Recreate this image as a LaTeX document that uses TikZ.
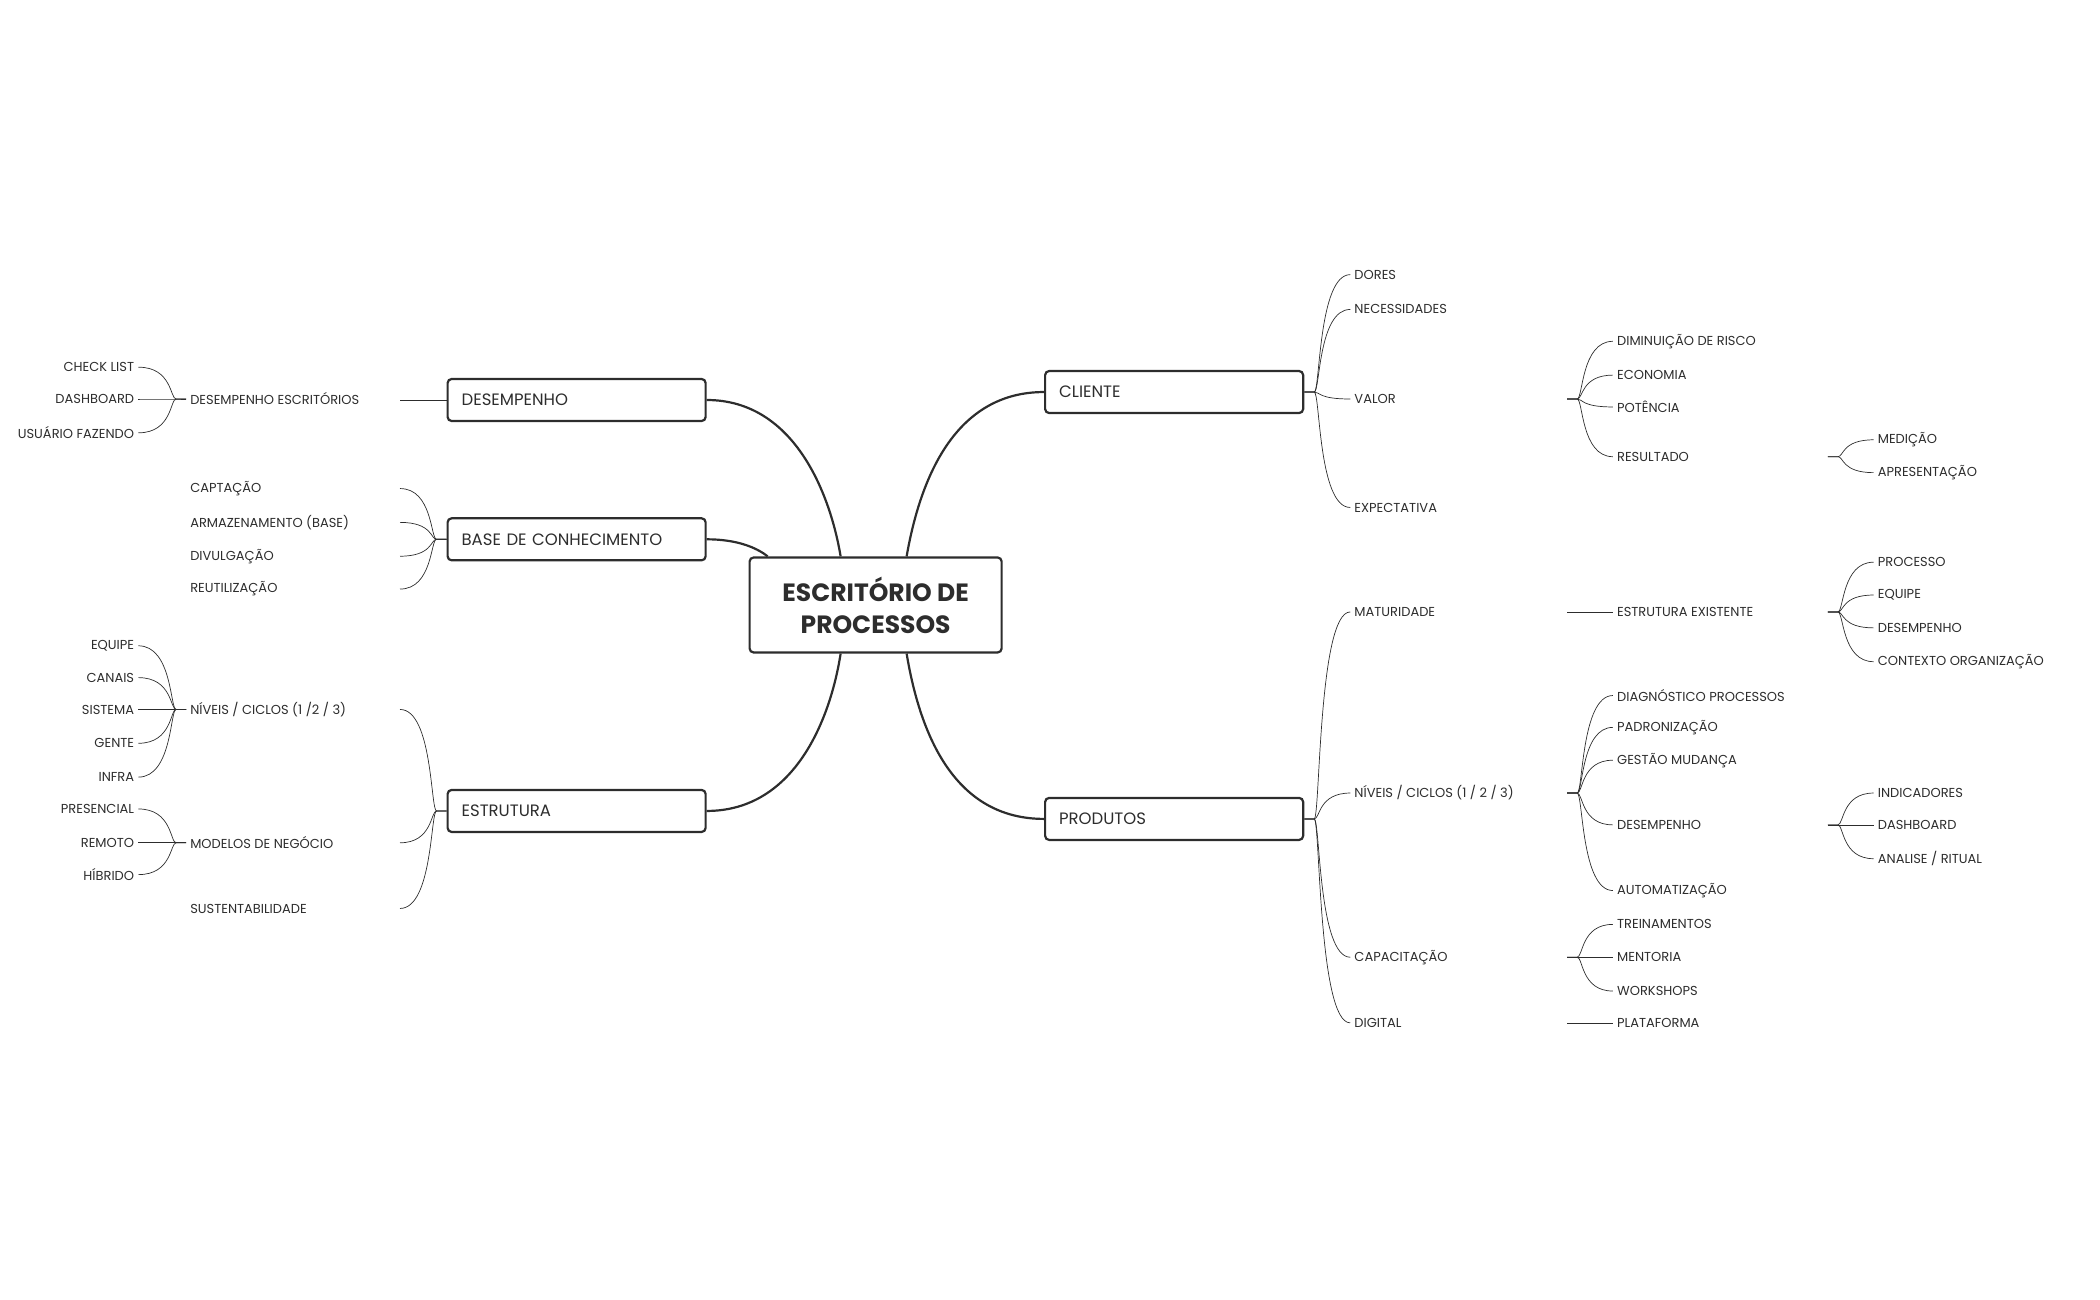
\documentclass[tikz,border=0pt]{standalone}
\usepackage{fontspec}
\setmainfont{Poppins}
\usetikzlibrary{calc}
\definecolor{ink}{RGB}{45,45,45}
\tikzset{
 lbl/.style={inner ysep=0pt,inner xsep=4pt,font=\fontsize{13}{15}\selectfont,text=ink},
 topic/.style={draw=ink,line width=2.2pt,rounded corners=4pt,minimum width=258pt,minimum height=42pt,text width=230pt,align=left,font=\fontsize{16.5}{18}\selectfont,text=ink},
 thin/.style={draw=ink,line width=0.7pt},
 thick/.style={draw=ink,line width=2.2pt}
}
\newcommand\kidR[5]{% from coord, child name, x, y, text
 \node[lbl,anchor=west] (#2) at (#3-4,#4) {#5};
 \draw[thin] (#1) -- ++(10,0) coordinate (f) .. controls ($(f)+(6,0)$) and ($(f |- #2.west)+(4,0)$) .. (#2.west);}
\newcommand\kidL[5]{%
 \node[lbl,anchor=east] (#2) at (#3+4,#4) {#5};
 \draw[thin] (#1) -- ++(-10,0) coordinate (f) .. controls ($(f)+(-6,0)$) and ($(f |- #2.east)+(-4,0)$) .. (#2.east);}
\newcommand\kidLc[5]{% left child whose connection point is a coordinate to its right
 \node[lbl,anchor=west] (#2) at (187,#4) {#5};
 \coordinate (#2c) at (#3,#4);
 \draw[thin] (#1) -- ++(-10,0) coordinate (f) .. controls ($(f)+(-6,0)$) and ($(f |- #2c)+(-4,0)$) .. (#2c);}
\begin{document}
\begin{tikzpicture}[x=0.995pt,y=-0.995pt]
\useasboundingbox (0,0) rectangle (2110.5,1306.5);
\node[draw=ink,line width=2.2pt,rounded corners=4pt,minimum width=252pt,minimum height=95pt,align=center,font=\fontsize{25}{32}\selectfont\bfseries,text=ink] (c) at (880,608) {ESCRITÓRIO DE\\PROCESSOS};
\node[topic] (des) at (579.5,402) {DESEMPENHO};
\node[topic] (base) at (579.5,542) {BASE DE CONHECIMENTO};
\node[topic] (est) at (579.5,815) {ESTRUTURA};
\node[topic] (cli) at (1180,394) {CLIENTE};
\node[topic] (prod) at (1180,823) {PRODUTOS};
\draw[thick] (des.east) .. controls (800,402) and (835,500) .. ([xshift=-35pt]c.north);
\draw[thick] (base.east) .. controls (740,542) and (760,550) .. ([xshift=-108pt]c.north);
\draw[thick] (est.east) .. controls (800,815) and (835,720) .. ([xshift=-35pt]c.south);
\draw[thick] (cli.west) .. controls (960,394) and (925,480) .. ([xshift=31pt]c.north);
\draw[thick] (prod.west) .. controls (960,823) and (925,740) .. ([xshift=31pt]c.south);
% DESEMPENHO
\node[lbl,anchor=west] (de) at (187,401) {DESEMPENHO ESCRITÓRIOS};
\coordinate (dec) at (402,402);
\draw[thin] (des.west) -- (dec);
\coordinate (deL) at (187,401);
\kidL{deL}{cl}{135}{369}{CHECK LIST}
\kidL{deL}{db}{135}{401}{DASHBOARD}
\kidL{deL}{uf}{135}{435}{USUÁRIO FAZENDO}
% BASE
\kidLc{base.west}{b1}{402}{491}{CAPTAÇÃO}
\kidLc{base.west}{b2}{402}{525}{ARMAZENAMENTO (BASE)}
\kidLc{base.west}{b3}{402}{559}{DIVULGAÇÃO}
\kidLc{base.west}{b4}{402}{592}{REUTILIZAÇÃO}
% ESTRUTURA
\kidLc{est.west}{e1}{402}{713}{NÍVEIS / CICLOS (1 /2 / 3)}
\kidLc{est.west}{e2}{402}{847}{MODELOS DE NEGÓCIO}
\kidLc{est.west}{e3}{402}{913}{SUSTENTABILIDADE}
\coordinate (e1L) at (187,713);
\kidL{e1L}{n1}{135}{649}{EQUIPE}
\kidL{e1L}{n2}{135}{681}{CANAIS}
\kidL{e1L}{n3}{135}{713}{SISTEMA}
\kidL{e1L}{n4}{135}{747}{GENTE}
\kidL{e1L}{n5}{135}{781}{INFRA}
\coordinate (e2L) at (187,847);
\kidL{e2L}{m1}{135}{813}{PRESENCIAL}
\kidL{e2L}{m2}{135}{847}{REMOTO}
\kidL{e2L}{m3}{135}{879}{HÍBRIDO}
% CLIENTE
\kidR{cli.east}{c1}{1361}{276}{DORES}
\kidR{cli.east}{c2}{1361}{311}{NECESSIDADES}
\kidR{cli.east}{c3}{1361}{401}{VALOR}
\kidR{cli.east}{c4}{1361}{510}{EXPECTATIVA}
\coordinate (vR) at (1575,401);
\kidR{vR}{v1}{1625}{343}{DIMINUIÇÃO DE RISCO}
\kidR{vR}{v2}{1625}{377}{ECONOMIA}
\kidR{vR}{v3}{1625}{409}{POTÊNCIA}
\kidR{vR}{v4}{1625}{459}{RESULTADO}
\coordinate (rR) at (1837,459);
\kidR{rR}{r1}{1887}{442}{MEDIÇÃO}
\kidR{rR}{r2}{1887}{475}{APRESENTAÇÃO}
% PRODUTOS
\kidR{prod.east}{p1}{1361}{615}{MATURIDADE}
\kidR{prod.east}{p2}{1361}{797}{NÍVEIS / CICLOS (1 / 2 / 3)}
\kidR{prod.east}{p3}{1361}{962}{CAPACITAÇÃO}
\kidR{prod.east}{p4}{1361}{1028}{DIGITAL}
\coordinate (p1R) at (1575,615);
\kidR{p1R}{ee}{1625}{615}{ESTRUTURA EXISTENTE}
\coordinate (eeR) at (1837,615);
\kidR{eeR}{x1}{1887}{565}{PROCESSO}
\kidR{eeR}{x2}{1887}{598}{EQUIPE}
\kidR{eeR}{x3}{1887}{631}{DESEMPENHO}
\kidR{eeR}{x4}{1887}{665}{CONTEXTO ORGANIZAÇÃO}
\coordinate (p2R) at (1575,797);
\kidR{p2R}{y1}{1625}{699}{DIAGNÓSTICO PROCESSOS}
\kidR{p2R}{y2}{1625}{731}{PADRONIZAÇÃO}
\kidR{p2R}{y3}{1625}{764}{GESTÃO MUDANÇA}
\kidR{p2R}{y4}{1625}{829}{DESEMPENHO}
\kidR{p2R}{y5}{1625}{895}{AUTOMATIZAÇÃO}
\coordinate (y4R) at (1837,829);
\kidR{y4R}{z1}{1887}{797}{INDICADORES}
\kidR{y4R}{z2}{1887}{829}{DASHBOARD}
\kidR{y4R}{z3}{1887}{863}{ANALISE / RITUAL}
\coordinate (p3R) at (1575,962);
\kidR{p3R}{t1}{1625}{929}{TREINAMENTOS}
\kidR{p3R}{t2}{1625}{962}{MENTORIA}
\kidR{p3R}{t3}{1625}{996}{WORKSHOPS}
\coordinate (p4R) at (1575,1028);
\kidR{p4R}{pl}{1625}{1028}{PLATAFORMA}
\end{tikzpicture}
\end{document}
